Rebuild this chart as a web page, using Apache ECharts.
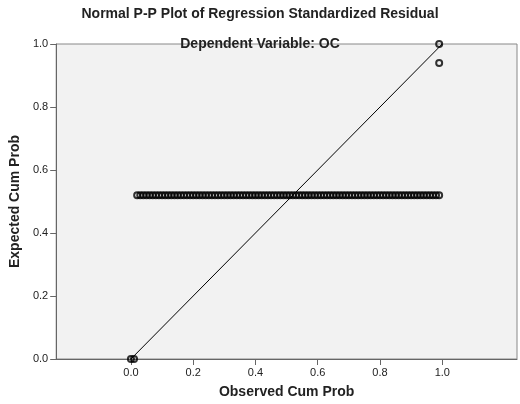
<!DOCTYPE html>
<html><head><meta charset="utf-8">
<script src="https://cdn.jsdelivr.net/npm/echarts@6/dist/echarts.min.js"></script>
<style>body{margin:0}#c{width:520px;height:404px}</style></head>
<body><div id="c"></div>
<script>
// observed / expected cum prob
const rowX = [0.02,0.03,0.04,0.05,0.06,0.07,0.08,0.09,0.10,0.11,0.12,0.13,0.14,0.15,0.16,0.17,0.18,0.19,0.20,
  0.21,0.22,0.23,0.24,0.25,0.26,0.27,0.28,0.29,0.30,0.31,0.32,0.33,0.34,0.35,0.36,0.37,0.38,0.39,0.40,
  0.41,0.42,0.43,0.44,0.45,0.46,0.47,0.48,0.49,0.50,0.51,0.52,0.53,0.54,0.55,0.56,0.57,0.58,0.59,0.60,
  0.61,0.62,0.63,0.64,0.65,0.66,0.67,0.68,0.69,0.70,0.71,0.72,0.73,0.74,0.75,0.76,0.77,0.78,0.79,0.80,
  0.81,0.82,0.83,0.84,0.85,0.86,0.87,0.88,0.89,0.90,0.91,0.92,0.93,0.94,0.95,0.96,0.97,0.98,0.99];
const rowY = 0.52;
const extraPoints = [[0.0, 0.0], [0.01, 0.0], [0.99, 0.94], [0.99, 1.0]];
const refLine = [[0, 0], [1, 1]];
const tickVals = [0, 0.2, 0.4, 0.6, 0.8, 1.0];

const pts = rowX.map(x => [x, rowY]).concat(extraPoints);

const titleFont = {fontFamily: 'Arial', fontSize: 14, fontWeight: 'bold', color: '#222'};
const chart = echarts.init(document.getElementById('c'));
chart.setOption({
  title: [
    {text: 'Normal P-P Plot of Regression Standardized Residual', left: 'center', top: 2, textStyle: titleFont},
    {text: 'Dependent Variable: OC', left: 'center', top: 32, textStyle: titleFont}
  ],
  grid: {left: 40, right: 3, top: 44, bottom: 38, show: true, backgroundColor: '#f2f2f2', borderColor: '#888'},
  xAxis: {
    type: 'value', min: -0.24, max: 1.24,
    name: 'Observed Cum Prob', nameLocation: 'middle', nameGap: 26,
    nameTextStyle: titleFont,
    splitLine: {show: false},
    axisLine: {onZero: false, lineStyle: {color: '#666'}},
    axisTick: {customValues: tickVals, length: 6, lineStyle: {color: '#666'}},
    axisLabel: {customValues: tickVals, formatter: v => v.toFixed(1), color: '#222', fontFamily: 'Arial', fontSize: 11}
  },
  yAxis: {
    type: 'value', min: 0, max: 1, interval: 0.2,
    name: 'Expected Cum Prob', nameLocation: 'middle', nameGap: 27,
    nameTextStyle: titleFont,
    splitLine: {show: false},
    axisLine: {onZero: false, lineStyle: {color: '#666'}},
    axisTick: {length: 6, lineStyle: {color: '#666'}},
    axisLabel: {formatter: v => v.toFixed(1), color: '#222', fontFamily: 'Arial', fontSize: 11}
  },
  series: [
    {type: 'line', data: refLine, symbol: 'none', lineStyle: {color: '#000', width: 1}, silent: true},
    {type: 'scatter', data: pts, symbol: 'circle', symbolSize: 6,
     itemStyle: {color: 'rgba(0,0,0,0)', borderColor: '#000', borderWidth: 2}}
  ]
});
</script></body></html>
